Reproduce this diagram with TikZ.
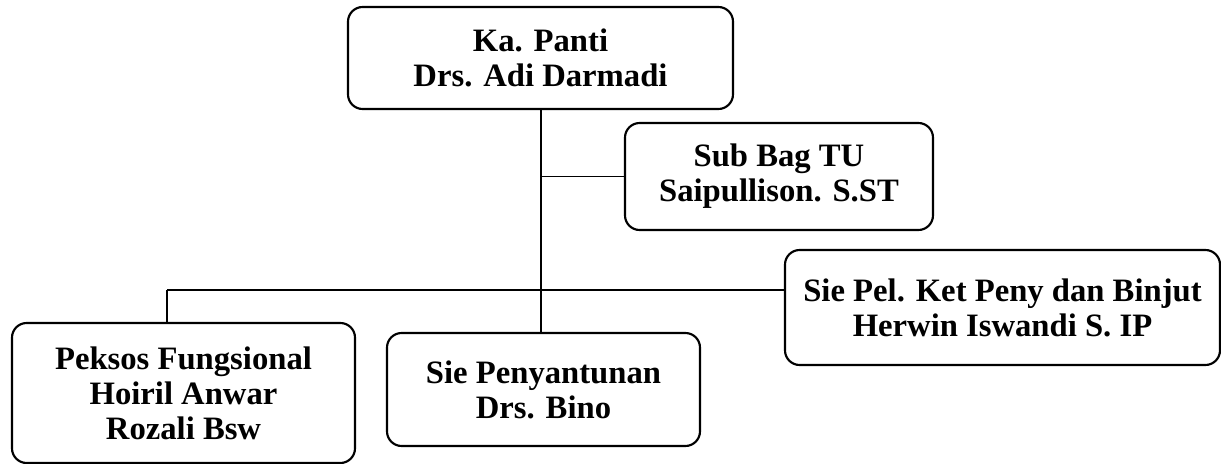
\documentclass[tikz,border=0pt]{standalone}
\usepackage{fontspec}
\setmainfont{Liberation Serif}
\tikzstyle{unit} = [
  rectangle,
  rounded corners=11pt,
  draw=black,
  line width=1.6pt,
  align=center,
  inner sep=0,
  font=\fontsize{24.5}{26.25}\selectfont\bfseries
]
\tikzstyle{line} = [
  line width=1.4pt
]

\begin{document}
\begin{tikzpicture}[x=0.75pt, y=-0.75pt]

    \useasboundingbox (0,0) rectangle (1221,464);

    \node (panti) [unit, minimum width=288.75pt, minimum height=76.5pt] at (540.5,58) {Ka. Panti\\Drs. Adi Darmadi};
    \node (subbag) [unit, minimum width=231pt, minimum height=80.25pt] at (779,176.5) {Sub Bag TU\\Saipullison. S.ST};
    \node (pel) [unit, minimum width=326.25pt, minimum height=86.25pt] at (1002.5,307.5) {Sie Pel. Ket Peny dan Binjut\\Herwin Iswandi S. IP};
    \node (peksos) [unit, minimum width=257.25pt, minimum height=105pt] at (183.5,393) {Peksos Fungsional\\Hoiril Anwar\\Rozali Bsw};
    \node (santun) [unit, minimum width=234.75pt, minimum height=84.75pt] at (543.5,389.5) {Sie Penyantunan\\Drs. Bino};

    \coordinate (trunk) at (541,290);
    \coordinate (left) at (167,290);

    \draw [line] (panti.south -| trunk) -- (trunk |- santun.north);
    \draw [line] (trunk |- subbag.west) -- (subbag.west);
    \draw [line] (left) -- (left -| pel.west);
    \draw [line] (left) -- (left |- peksos.north);

\end{tikzpicture}
\end{document}
